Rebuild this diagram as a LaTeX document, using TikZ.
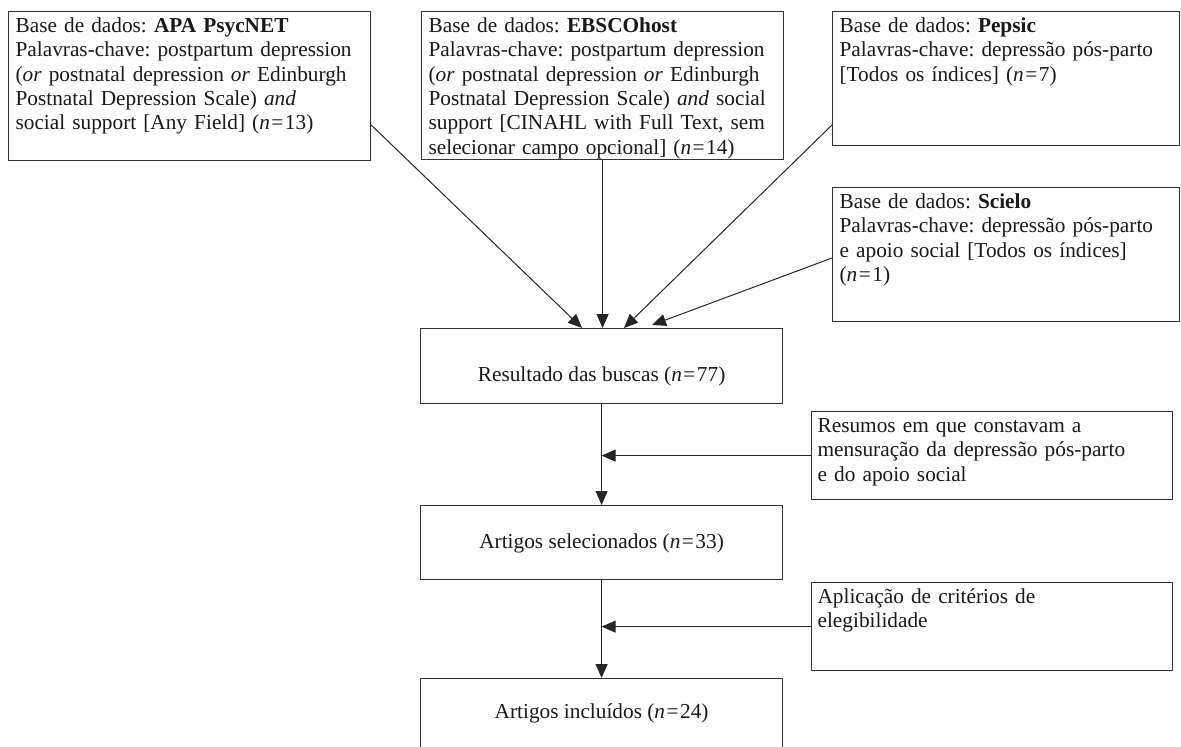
\documentclass[tikz,border=0pt]{standalone}
\usepackage{fontspec}
\setmainfont{Liberation Serif}
\frenchspacing
\usetikzlibrary{arrows.meta}
\newcommand{\nn}[1]{(\textit{n}\kern1.5pt=\kern1.5pt#1)}
\tikzset{
  dbbox/.style={draw=black!80, line width=1.2pt, anchor=north west, align=left,
    inner xsep=7pt, inner ysep=0pt, text height=21pt, text=black!90,
    font=\fontsize{21.3}{24.3}\selectfont},
  stepbox/.style={draw=black!80, line width=1.2pt, anchor=north west, align=center,
    inner sep=0pt, minimum width=362pt, text=black!90,
    font=\fontsize{21.3}{24.3}\selectfont},
  flowarrow/.style={draw=black!85, line width=1pt, -{Triangle[length=14pt,width=12pt]}}
}

\begin{document}
\begin{tikzpicture}[x=1pt, y=-1pt]
    \clip (0,0) rectangle (1181,747);
    \node[dbbox, text width=348pt, text depth=128pt] (apa) at (8,11)
        {Base de dados: \textbf{APA PsycNET}\\
         Palavras-chave: postpartum depression\\
         (\textit{or} postnatal depression \textit{or} Edinburgh\\
         Postnatal Depression Scale) \textit{and}\\
         social support [Any Field] \nn{13}};
    \node[dbbox, text width=348pt, text depth=127pt] (ebsco) at (421,11)
        {Base de dados: \textbf{EBSCOhost}\\
         Palavras-chave: postpartum depression\\
         (\textit{or} postnatal depression \textit{or} Edinburgh\\
         Postnatal Depression Scale) \textit{and} social\\
         support [CINAHL with Full Text, sem\\
         selecionar campo opcional] \nn{14}};
    \node[dbbox, text width=333pt, text depth=113pt] (pepsic) at (832,11)
        {Base de dados: \textbf{Pepsic}\\
         Palavras-chave: depressão pós-parto\\
         {[}Todos os índices{]} \nn{7}};
    \node[dbbox, text width=333pt, text depth=113pt] (scielo) at (832,187)
        {Base de dados: \textbf{Scielo}\\
         Palavras-chave: depressão pós-parto\\
         e apoio social [Todos os índices]\\
         \nn{1}};

    \node[stepbox, text height=53pt, text depth=22pt] (results) at (420,328)
        {Resultado das buscas \nn{77}};
    \node[stepbox, text height=43pt, text depth=31pt] (selected) at (420,505)
        {Artigos selecionados \nn{33}};
    \node[stepbox, text height=40pt, text depth=34pt] (included) at (420,678)
        {Artigos incluídos \nn{24}};

    \node[dbbox, inner xsep=6pt, text width=349pt, text depth=67pt] (abstracts) at (811,411)
        {Resumos em que constavam a\\
         mensuração da depressão pós-parto\\
         e do apoio social};
    \node[dbbox, inner xsep=6pt, text width=349pt, text depth=67pt] (criteria) at (811,582)
        {Aplicação de critérios de\\
         elegibilidade};

    \draw[flowarrow] (apa.east |- 0,125) -- (results.north -| 582,0);
    \draw[flowarrow] (ebsco.south) -- (ebsco.south |- results.north);
    \draw[flowarrow] (pepsic.west |- 0,125) -- (results.north -| 624,0);
    \draw[flowarrow] (scielo.west |- 0,258) -- (652,325);
    \draw[flowarrow] (results) -- (selected);
    \draw[flowarrow] (selected) -- (included);
    \draw[flowarrow] (abstracts.west) -- (abstracts.west -| results.south);
    \draw[flowarrow] (criteria.west) -- (criteria.west -| results.south);
\end{tikzpicture}
\end{document}
